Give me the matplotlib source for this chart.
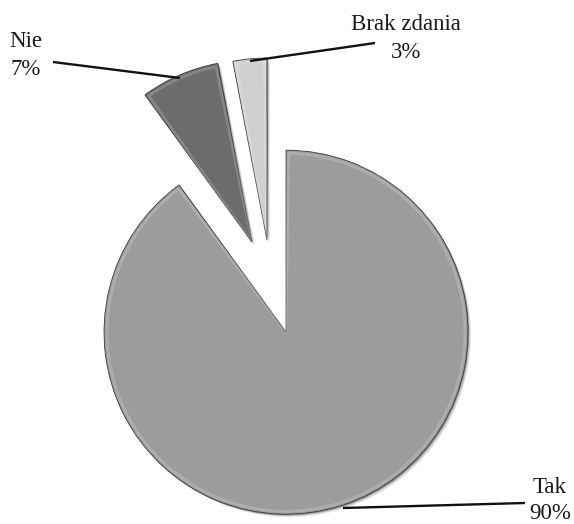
import matplotlib
matplotlib.use("Agg")
import matplotlib.pyplot as plt
from matplotlib.patches import Wedge
import numpy as np

categories = ["Tak", "Nie", "Brak zdania"]
values = [90, 7, 3]
colors = ["#9c9c9e", "#6c6c6c", "#d0d0d0"]
explode_frac = [0.26, 0.27, 0.26]

W, H = 574, 524
fig = plt.figure(figsize=(W / 100, H / 100), dpi=100)
ax = fig.add_axes([0, 0, 1, 1])

cx, cy = 271.4, H - 287.2
R = 182
explode = [e * R for e in explode_frac]

# shadow layer
for dx, dy, al in [(3.0, -3.0, 0.10), (2.0, -2.0, 0.18), (1.0, -1.0, 0.35)]:
    ax.pie(values, startangle=90, counterclock=False, explode=explode,
           colors=["#202020"] * 3, radius=R, center=(cx + dx, cy + dy),
           wedgeprops=dict(linewidth=0, alpha=al), frame=True)
wedges, _ = ax.pie(values, startangle=90, counterclock=False, explode=explode,
                   colors=colors, radius=R, center=(cx, cy),
                   wedgeprops=dict(linewidth=0.6, edgecolor="#3a3a3a"), frame=True)
# inner bevel highlight
for w in wedges:
    hl = Wedge(w.center, w.r - 3, w.theta1 + 0.8, w.theta2 - 0.8, facecolor="none",
               edgecolor="white", linewidth=2.0, alpha=0.18)
    ax.add_patch(hl)

ax.set_xlim(0, W)
ax.set_ylim(0, H)
ax.set_aspect("equal")
ax.axis("off")

font = dict(family="Liberation Serif", fontsize=16.5, color="#1a1a1a")

def py(y):
    return H - y

# leader lines
ax.plot([53, 180], [py(62), py(78)], color="#111111", lw=1.7, solid_capstyle="butt")
ax.plot([250, 375], [py(61), py(43)], color="#111111", lw=1.7, solid_capstyle="butt")
ax.plot([343, 525], [py(508), py(503)], color="#111111", lw=1.7, solid_capstyle="butt")

# labels: (x centre, first baseline, second baseline)
label_pos = {"Tak": (550, 493, 519), "Nie": (25.5, 47, 75), "Brak zdania": (406, 30, 58)}
for c, v in zip(categories, values):
    x, b1, b2 = label_pos[c]
    ax.text(x, py(b1), c, ha="center", va="baseline", **font)
    ax.text(x, py(b2), f"{v}%", ha="center", va="baseline", **font)

fig.savefig("out.png", dpi=100, facecolor="white")
